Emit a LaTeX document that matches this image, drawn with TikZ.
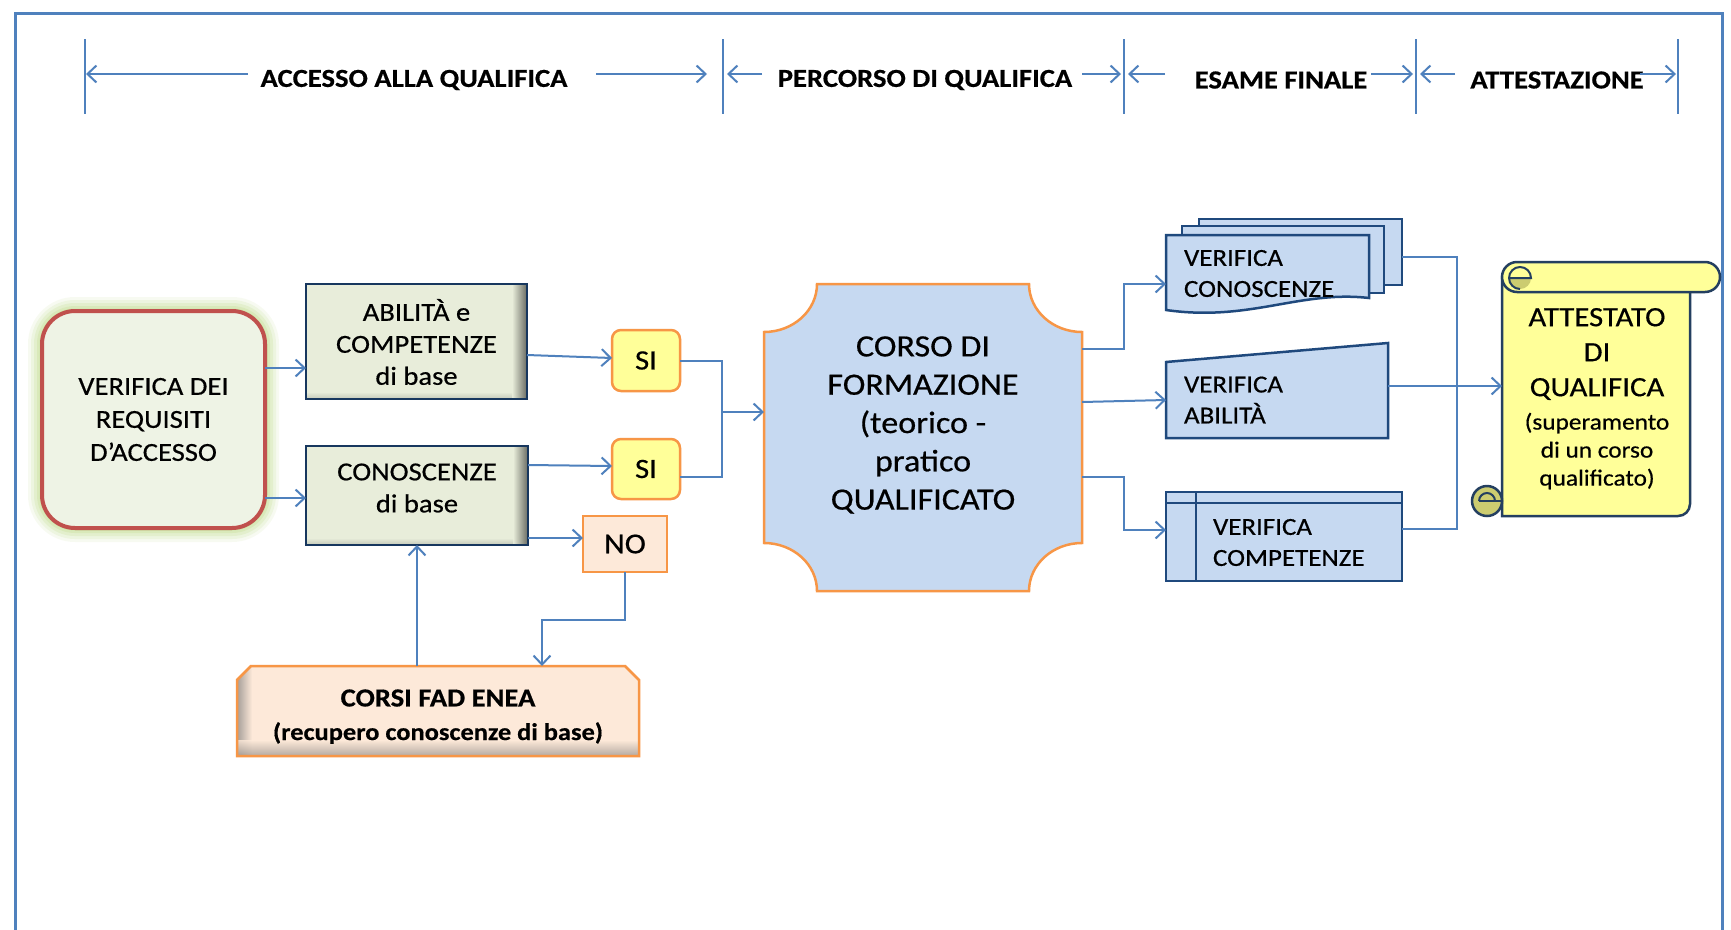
\documentclass[tikz,border=0pt]{standalone}
\usepackage{fontspec}
\setmainfont{Carlito}[FakeStretch=1.1, FakeBold=0.5]
\usetikzlibrary{arrows.meta,calc}
\definecolor{lineblue}{HTML}{4F81BD}
\definecolor{boxnavy}{HTML}{17375E}
\definecolor{vnavy}{HTML}{1F497D}
\definecolor{orng}{HTML}{F79646}
\definecolor{redb}{HTML}{C0504D}
\definecolor{palegreen}{HTML}{EEF3E5}
\definecolor{glowc}{HTML}{B7D77A}
\definecolor{olivebox}{HTML}{E8EDDA}
\definecolor{peach}{HTML}{FDE9D9}
\definecolor{yel}{HTML}{FFFF99}
\definecolor{lblue}{HTML}{C6D9F1}
\definecolor{scrollb}{HTML}{243F60}
\definecolor{curlc}{HTML}{CCCC70}
\tikzset{
  conn/.style={draw=lineblue, line width=2pt},
  arr/.style={conn, -{Straight Barb[length=9pt,width=17pt,line width=2pt]}},
  txt/.style={inner sep=0pt, outer sep=0pt, align=center, text=black},
  hdr/.style={txt, font=\bfseries\fontsize{26}{30}\selectfont},
  anchorbox/.style={inner sep=0pt, outer sep=0pt, minimum width=#1},
  greenbox/.style={draw=boxnavy, line width=2.5pt, fill=olivebox, inner sep=0pt, outer sep=0pt},
  sibox/.style={draw=orng, line width=2.5pt, fill=yel, rounded corners=9pt, inner sep=0pt, outer sep=0pt,
    minimum width=68pt, font=\fontsize{28}{30}\selectfont},
  vbox/.style={draw=vnavy, line width=2.5pt, fill=lblue},
  vtxt/.style={txt, align=left, anchor=west, font=\fontsize{24.5}{31}\selectfont},
}
\begin{document}
\begin{tikzpicture}[x=1pt,y=-1pt]
\useasboundingbox (0,0) rectangle (1731,929);
\fill[white] (0,0) rectangle (1731,929);
% frame
\draw[lineblue, line width=3pt] (15,13) rectangle (1722,940);

% header ticks
\foreach \n/\x in {1/85,2/723,3/1124,4/1416,5/1678} {
  \coordinate (tk\n) at (\x,39);
  \coordinate (tkb\n) at (\x,114);
  \draw[conn] (tk\n) -- (tkb\n);
}
\node[hdr] (h1) at (414,80) {ACCESSO ALLA QUALIFICA};
\node[hdr] (h2) at (925,80) {PERCORSO DI QUALIFICA};
\node[hdr] (h3) at (1281,80) {ESAME FINALE};
\node[hdr] (h4) at (1557,80) {ATTESTAZIONE};
\foreach \s/\e in {248/86, 596/707, 762/727, 1082/1121, 1165/1128, 1371/1413, 1455/1420, 1640/1676} {
  \coordinate (as\s) at (\s,74);
  \coordinate (ae\s) at (\e,74);
  \draw[arr] (as\s) -- (ae\s);
}

% glow + verifica
\foreach \g/\o/\rr in {14/0.10/47, 11/0.14/44, 8/0.18/41, 5/0.22/38, 2.5/0.3/35.5}
  \fill[glowc, opacity=\o, rounded corners=\rr pt] (42-\g,311-\g) rectangle (265+\g,528+\g);
\node[draw=redb, line width=4pt, fill=palegreen, rounded corners=33pt, inner sep=0pt, outer sep=0pt,
  minimum width=223pt, minimum height=217pt, align=center, font=\fontsize{26}{33}\selectfont]
  (ver) at (153.5,419.5) {VERIFICA DEI\\REQUISITI\\D’ACCESSO};

% abilita / conoscenze
\foreach \xa/\ya/\xb/\yb in {306/284/527/399, 306/446/528/545} {
  \fill[olivebox] (\xa,\ya) rectangle (\xb,\yb);
  \shade[left color=olivebox, right color=olivebox!45!black] (\xb-15,\ya) rectangle (\xb,\yb);
  \shade[top color=olivebox, bottom color=olivebox!70!black, fill opacity=0.5] (\xa,\yb-7) rectangle (\xb-15,\yb);
}
\node[greenbox, fill=none, minimum width=221pt, minimum height=115pt] (abi) at (416.5,341.5) {};
\node[greenbox, fill=none, minimum width=222pt, minimum height=99pt] (con) at (417,495.5) {};
\node[txt, font=\fontsize{26}{32}\selectfont] (abit) at (416.5,342) {ABILITÀ e\\COMPETENZE\\di base};
\node[txt, font=\fontsize{26}{32}\selectfont] (cont) at (417,488) {CONOSCENZE\\di base};

% SI / NO
\node[sibox, minimum height=61pt] (si1) at (646,360.5) {SI};
\node[sibox, minimum height=60pt] (si2) at (646,469) {SI};
\node[draw=orng, line width=2.5pt, fill=peach, inner sep=0pt, outer sep=0pt, minimum width=84pt,
  minimum height=56pt, font=\fontsize{29}{30}\selectfont] (no) at (625,544) {NO};

% CORSI FAD ENEA
\begin{scope}
  \clip (237,756) -- (237,680) -- (251,666) -- (625,666) -- (639,680) -- (639,756) -- cycle;
  \fill[peach] (237,666) rectangle (639,756);
  \shade[left color=peach!50!black!70, right color=peach] (237,666) rectangle (252,756);
  \shade[top color=peach, bottom color=peach!55!black!80, fill opacity=0.8] (237,740) rectangle (639,756);
\end{scope}
\draw[orng, line width=2.5pt] (237,756) -- (237,680) -- (251,666) -- (625,666) -- (639,680) -- (639,756) -- cycle;
\node[anchorbox=402pt, minimum height=90pt] (corsi) at (438,711) {};
\node[txt, font=\bfseries\fontsize{26}{34}\selectfont] (corsit) at (438,698) {CORSI FAD ENEA};
\node[txt, font=\bfseries\fontsize{24}{34}\selectfont] (corsiu) at (438,733) {(recupero conoscenze di base)};

% CORSO DI FORMAZIONE (plaque)
\draw[orng, line width=2.5pt, fill=lblue]
  (817,284) -- (1029,284) arc[start angle=180, end angle=90, x radius=53, y radius=48]
  -- (1082,543) arc[start angle=270, end angle=180, x radius=53, y radius=48]
  -- (817,591) arc[start angle=0, end angle=-90, x radius=53, y radius=48]
  -- (764,332) arc[start angle=90, end angle=0, x radius=53, y radius=48] -- cycle;
\node[anchorbox=318pt, minimum height=307pt] (corso) at (923,437.5) {};
\node[txt, font=\fontsize{31}{38.3}\selectfont] (corsot) at (923,425)
  {CORSO DI\\FORMAZIONE\\(teorico -\\pratico\\QUALIFICATO};

% VERIFICA CONOSCENZE (multi-document)
\node[vbox, inner sep=0pt, outer sep=0pt, minimum width=203pt, minimum height=66pt] (vcb) at (1300.5,252) {};
\node[vbox, inner sep=0pt, outer sep=0pt, minimum width=202pt, minimum height=67pt] (vcm) at (1283,259.5) {};
\draw[vbox] (1166,235) -- (1369,235) -- (1369,298)
  .. controls (1300,290) and (1250,322) .. (1166,310) -- cycle;
\node[anchorbox=203pt, minimum height=76pt] (vc) at (1267.5,273) {};
\node[vtxt] (vct) at (1184,273.5) {VERIFICA\\CONOSCENZE};

% VERIFICA ABILITA (manual input)
\draw[vbox] (1166,362) -- (1388,343) -- (1388,438) -- (1166,438) -- cycle;
\node[anchorbox=222pt, minimum height=95pt] (va) at (1277,390.5) {};
\node[vtxt] (vat) at (1184,400) {VERIFICA\\ABILITÀ};

% VERIFICA COMPETENZE (internal storage)
\node[vbox, inner sep=0pt, outer sep=0pt, minimum width=236pt, minimum height=89pt] (vcomp) at (1284,536.5) {};
\draw[vnavy, line width=2pt] (1196,492) -- (1196,581);
\draw[vnavy, line width=2pt] (1166,503) -- (1402,503);
\node[vtxt] (vcompt) at (1213,542.5) {VERIFICA\\COMPETENZE};

% ATTESTATO scroll
\draw[scrollb, line width=2.5pt, fill=yel]
  (1502,277) -- (1502,516) -- (1678,516) arc[start angle=90, end angle=0, radius=12] -- (1690,277) -- cycle;
\draw[scrollb, line width=2.5pt, fill=yel, rounded corners=15pt] (1502,262) rectangle (1720,292);
% top curl
\fill[curlc] (1509,278) arc[start angle=180, end angle=0, radius=11] -- cycle;
\draw[scrollb, line width=2pt] (1509,278) -- (1531,278) arc[start angle=0, end angle=-180, radius=11];
\draw[scrollb, line width=2pt] (1509,278) arc[start angle=180, end angle=90, radius=11];
% bottom curl
\draw[scrollb, line width=2.5pt, fill=curlc] (1487,501) circle[radius=15];
\draw[scrollb, line width=2pt] (1479,501) -- (1502,501);
\draw[scrollb, line width=2pt] (1479,501) arc[start angle=180, end angle=360, radius=8];
\node[anchorbox=188pt, minimum height=254pt] (att) at (1596,389) {};
\node[txt, font=\fontsize{28}{35}\selectfont] (atta) at (1597,354) {ATTESTATO\\DI\\QUALIFICA};
\node[txt, font=\fontsize{23}{28}\selectfont] (attb) at (1597,451) {(superamento\\di un corso\\qualificato)};

% connectors
\draw[arr] ($(ver.east)+(0,-51.5)$) -- ($(abi.west)+(0,26.5)$);
\draw[arr] ($(ver.east)+(0,78.5)$) -- ($(con.west)+(0,2.5)$);
\draw[arr] ($(abi.east)+(0,13.5)$) -- ($(si1.west)+(0,-2.5)$);
\draw[arr] ($(con.east)+(0,-30.5)$) -- ($(si2.west)+(0,-3)$);
\draw[arr] ($(con.east)+(0,42.5)$) -- ($(no.west)+(0,-6)$);
\coordinate (mj) at (722,412);
\draw[conn] (si1.east) -| (mj) |- ($(si2.east)+(0,8)$);
\draw[arr] (mj) -- (corso.west |- mj);
\coordinate (nb) at (542,620);
\draw[arr] (no.south) |- (nb) -- (nb |- corsi.north);
\draw[arr] (con.south |- corsi.north) -- (con.south);
\coordinate (c1) at (1124,349);
\draw[arr] (corso.east |- c1) -- (c1) |- ($(vc.west)+(0,11)$);
\draw[arr] ($(corso.east)+(0,-35.5)$) -- ($(va.west)+(0,9.5)$);
\coordinate (c3) at (1124,477);
\draw[arr] (corso.east |- c3) -- (c3) |- ($(vcomp.west)+(0,-6.5)$);
\coordinate (rj) at (1457,257);
\draw[conn] (vcb.east |- rj) -- (rj) |- ($(vcomp.east)+(0,-7.5)$);
\coordinate (va2) at ($(va.east)+(0,-4.5)$);
\draw[arr] (va2) -- (att.west |- va2);
\end{tikzpicture}
\end{document}
